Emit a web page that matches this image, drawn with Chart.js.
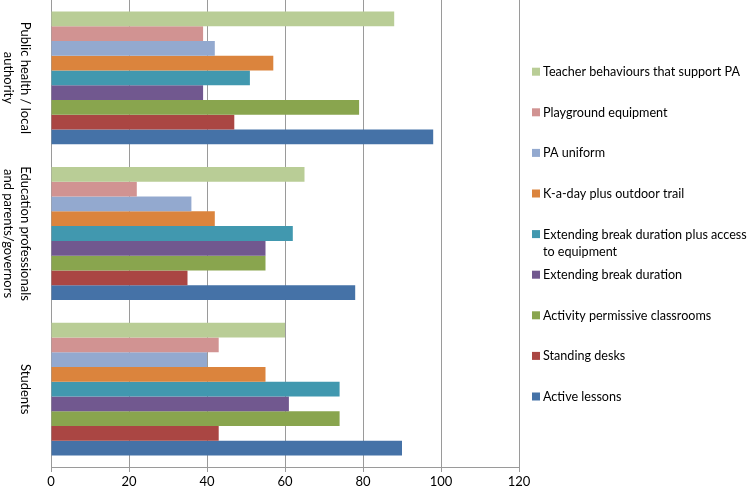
<!DOCTYPE html>
<html>
<head>
<meta charset="utf-8">
<script src="https://cdn.jsdelivr.net/npm/chart.js@4/dist/chart.umd.min.js"></script>
<style>
  html, body { margin: 0; padding: 0; background: #ffffff; }
  #wrap { width: 750px; height: 490px; position: relative; }
</style>
</head>
<body>
<div id="wrap"><canvas id="c" width="750" height="490"></canvas></div>
<script>
// ---- data ----
const categories = [
  ['Public health / local', 'authority'],
  ['Education professionals', 'and parents/governors'],
  ['Students']
];
const seriesNames = [
  'Teacher behaviours that support PA',
  'Playground equipment',
  'PA uniform',
  'K-a-day plus outdoor trail',
  'Extending break duration plus access to equipment',
  'Extending break duration',
  'Activity permissive classrooms',
  'Standing desks',
  'Active lessons'
];
const teacherBehaviours   = [88, 65, 60];
const playgroundEquipment = [39, 22, 43];
const paUniform           = [42, 36, 40];
const kADayTrail          = [57, 42, 55];
const breakPlusEquipment  = [51, 62, 74];
const extendingBreak      = [39, 55, 61];
const activityClassrooms  = [79, 55, 74];
const standingDesks       = [47, 35, 43];
const activeLessons       = [98, 78, 90];
const xTicks = [0, 20, 40, 60, 80, 100, 120];

// ---- styles ----
const seriesValues = [teacherBehaviours, playgroundEquipment, paUniform, kADayTrail,
  breakPlusEquipment, extendingBreak, activityClassrooms, standingDesks, activeLessons];
const seriesColors = ['#B9CD96', '#D19392', '#93A9CF', '#DB843D',
  '#4198AF', '#71588F', '#89A54E', '#AA4643', '#4572A7'];
const FONT = 'Lato';
const GRID = '#9a9a9a';

const categoryLabelPlugin = {
  id: 'categoryLabels',
  afterDraw(chart) {
    const ctx = chart.ctx;
    const yScale = chart.scales.y;
    ctx.save();
    ctx.font = '13px ' + FONT;
    ctx.fillStyle = '#000000';
    ctx.textAlign = 'center';
    ctx.textBaseline = 'middle';
    chart.data.labels.forEach((lines, i) => {
      const py = yScale.getPixelForTick(i);
      lines.forEach((line, j) => {
        ctx.save();
        ctx.translate(25 - 16.5 * j, py);
        ctx.rotate(Math.PI / 2);
        ctx.fillText(line, 0, 0);
        ctx.restore();
      });
    });
    ctx.restore();
  }
};

function wrapText(ctx, text, maxWidth) {
  const words = text.split(' ');
  const lines = [];
  let cur = '';
  words.forEach(w => {
    const test = cur ? cur + ' ' + w : w;
    if (ctx.measureText(test).width > maxWidth && cur) {
      lines.push(cur);
      cur = w;
    } else {
      cur = test;
    }
  });
  if (cur) lines.push(cur);
  return lines;
}

const legendPlugin = {
  id: 'sideLegend',
  afterDraw(chart) {
    const ctx = chart.ctx;
    ctx.save();
    ctx.font = '12.6px ' + FONT;
    ctx.textAlign = 'left';
    ctx.textBaseline = 'middle';
    const boxX = 532, textX = 543, startY = 71.7, step = 40.6, lineH = 17;
    chart.data.datasets.forEach((ds, i) => {
      const cy = startY + step * i;
      ctx.fillStyle = ds.backgroundColor;
      ctx.fillRect(boxX, cy - 4, 8, 8);
      ctx.fillStyle = '#000000';
      const lines = wrapText(ctx, ds.label, 206);
      lines.forEach((ln, j) => ctx.fillText(ln, textX, cy + j * lineH + 0.5));
    });
    ctx.restore();
  }
};

new Chart(document.getElementById('c'), {
  type: 'bar',
  data: {
    labels: categories,
    datasets: seriesNames.map((name, i) => ({
      label: name,
      data: seriesValues[i],
      backgroundColor: seriesColors[i],
      borderWidth: 0,
      categoryPercentage: 0.853,
      barPercentage: 1.0
    }))
  },
  options: {
    indexAxis: 'y',
    responsive: false,
    animation: false,
    devicePixelRatio: 1,
    layout: { padding: { top: 0, right: 231, bottom: 0, left: 0 } },
    plugins: {
      legend: { display: false },
      tooltip: { enabled: false },
      title: { display: false }
    },
    scales: {
      x: {
        type: 'linear',
        min: xTicks[0],
        max: xTicks[xTicks.length - 1],
        afterBuildTicks(scale) { scale.ticks = xTicks.map(v => ({ value: v })); },
        grid: { color: GRID, lineWidth: 1, tickLength: 5, drawTicks: true },
        border: { color: GRID, width: 1 },
        ticks: { font: { family: FONT, size: 13 }, color: '#000000', padding: 2, maxRotation: 0 },
        afterFit(scale) { scale.height = 23; }
      },
      y: {
        type: 'category',
        grid: { display: false },
        border: { color: GRID, width: 1 },
        ticks: { display: false },
        afterFit(scale) { scale.width = 51; }
      }
    }
  },
  plugins: [categoryLabelPlugin, legendPlugin]
});
</script>
</body>
</html>
